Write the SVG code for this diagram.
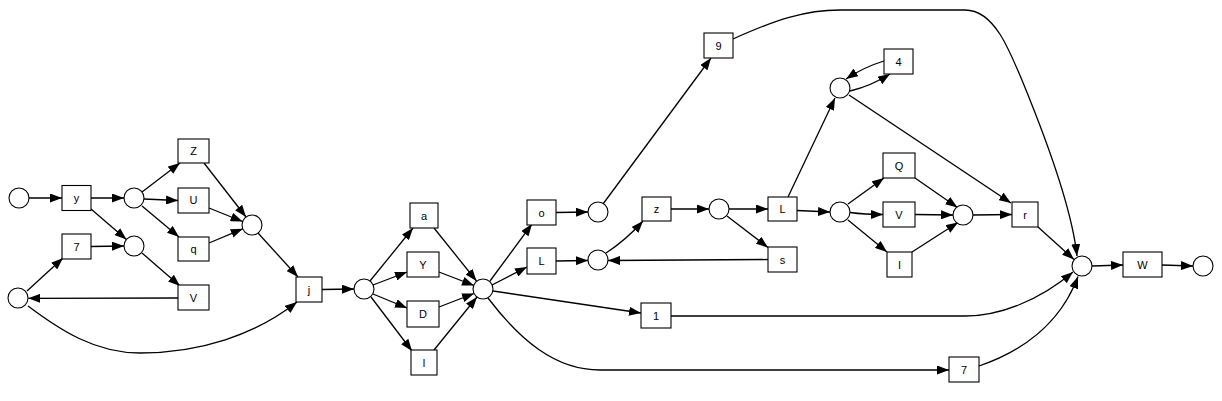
<svg xmlns="http://www.w3.org/2000/svg" width="1222" height="401" viewBox="0 0 1222 401">
<style>
.p{fill:#fff;stroke:#000;stroke-width:1.1}
.t{fill:#fff;stroke:#000;stroke-width:1.1}
.l{font-family:"Liberation Sans",Arial,sans-serif;font-size:11px;text-anchor:middle;fill:#000}
.e{fill:none;stroke:#000;stroke-width:1.3;marker-end:url(#ah)}
</style>
<defs>
<marker id="ah" markerWidth="12" markerHeight="9" refX="12" refY="4.5" orient="auto" markerUnits="userSpaceOnUse"><path d="M0,0 L12,4.5 L0,9 z" fill="#000"/></marker>
</defs>
<rect width="1222" height="401" fill="#fff"/>
<g id="connectors">
<path class="e" d="M29,198 L62,198"/>
<path class="e" d="M91,198 L124,198"/>
<path class="e" d="M91,209 L126.4,239.5"/>
<path class="e" d="M142,192 L180,163"/>
<path class="e" d="M144,199 L178,200.5"/>
<path class="e" d="M142,206 L179,237"/>
<path class="e" d="M204,163 L246,217"/>
<path class="e" d="M209,208 L242.6,221.5"/>
<path class="e" d="M209,243 L242.8,228.8"/>
<path class="e" d="M91,246.5 L124,246"/>
<path class="e" d="M142,253 L180,286"/>
<path class="e" d="M178,298 L28.3,298.3"/>
<path class="e" d="M27,291 L63,258"/>
<path class="e" d="M28,306 C60,330 95,353 140,353 C200,353 255,335 297,302"/>
<path class="e" d="M258,233 L298,277"/>
<path class="e" d="M322,289.5 L354,289"/>
<path class="e" d="M370,281 L413,228"/>
<path class="e" d="M373,285 L407,272"/>
<path class="e" d="M373,294 L407,308"/>
<path class="e" d="M371,297 L412,351"/>
<path class="e" d="M434,228 L476.5,281"/>
<path class="e" d="M439,272 L474,285.5"/>
<path class="e" d="M439,307 L474,293.5"/>
<path class="e" d="M434,350 L477,297"/>
<path class="e" d="M490,281 L532,224"/>
<path class="e" d="M492,285 L527,267"/>
<path class="e" d="M493,291 L641,313"/>
<path class="e" d="M488,298 C520,340 555,370 600,370 L949,370"/>
<path class="e" d="M556,212.5 L588,212"/>
<path class="e" d="M556,261 L588,260.5"/>
<path class="e" d="M603,204 L711,58"/>
<path class="e" d="M606,253 Q626,240 643,221"/>
<path class="e" d="M671,209 L709,209"/>
<path class="e" d="M729,209 L768,209"/>
<path class="e" d="M727,216 L768,247.5"/>
<path class="e" d="M768,259.5 L608,260.5"/>
<path class="e" d="M788,197 L835,98"/>
<path class="e" d="M797,210.5 L830,212"/>
<path class="e" d="M850,91 Q871,86 890,74"/>
<path class="e" d="M884,61 Q864,67 846,79"/>
<path class="e" d="M849,95 L1011,203"/>
<path class="e" d="M848,204 L884,178"/>
<path class="e" d="M850,212.5 Q865,214.5 883,214.5"/>
<path class="e" d="M848,220 L887,252"/>
<path class="e" d="M915,178 L957.5,207.5"/>
<path class="e" d="M915,214.5 L953,215"/>
<path class="e" d="M912,252 L958,222.5"/>
<path class="e" d="M973,215 L1012,214.5"/>
<path class="e" d="M1038,227 L1074,259.5"/>
<path class="e" d="M733,39 C775,20 805,10 840,10 L965,10 C995,10 1010,50 1030,100 C1050,150 1072,210 1077,256"/>
<path class="e" d="M671,316 L965,316 C1000,316 1040,300 1073,272"/>
<path class="e" d="M979,366 C1020,352 1060,325 1078,276.5"/>
<path class="e" d="M1092,266 L1123,265"/>
<path class="e" d="M1162,265 L1193,266"/>
</g>
<g id="p_start"><circle class="p" cx="19" cy="198" r="10"/></g>
<g id="t_y"><rect class="t" x="62" y="185.5" width="29" height="25"/><text class="l" x="76.5" y="202">y</text></g>
<g id="p_a"><circle class="p" cx="134" cy="198" r="10"/></g>
<g id="p_b"><circle class="p" cx="134" cy="246" r="10"/></g>
<g id="t_Z"><rect class="t" x="178" y="139" width="31" height="24"/><text class="l" x="193.5" y="155">Z</text></g>
<g id="t_U"><rect class="t" x="178" y="188" width="31" height="25"/><text class="l" x="193.5" y="204">U</text></g>
<g id="t_q"><rect class="t" x="178" y="237" width="31" height="24"/><text class="l" x="193.5" y="253">q</text></g>
<g id="p_c"><circle class="p" cx="252" cy="225" r="10"/></g>
<g id="t_7a"><rect class="t" x="62" y="234" width="29" height="25"/><text class="l" x="76.5" y="250.5">7</text></g>
<g id="t_Va"><rect class="t" x="178" y="285" width="31" height="25"/><text class="l" x="193.5" y="301.5">V</text></g>
<g id="p_d"><circle class="p" cx="18" cy="298" r="10"/></g>
<g id="t_j"><rect class="t" x="296" y="277" width="26" height="25"/><text class="l" x="309" y="293.5">j</text></g>
<g id="p_e"><circle class="p" cx="364" cy="289" r="10"/></g>
<g id="t_a"><rect class="t" x="410" y="203" width="28" height="25"/><text class="l" x="424" y="219.5">a</text></g>
<g id="t_Y"><rect class="t" x="407" y="252" width="32" height="25"/><text class="l" x="423" y="268.5">Y</text></g>
<g id="t_D"><rect class="t" x="407" y="301" width="32" height="26"/><text class="l" x="423" y="318">D</text></g>
<g id="t_l"><rect class="t" x="411" y="350" width="26" height="25"/><text class="l" x="424" y="366.5">l</text></g>
<g id="p_f"><circle class="p" cx="483" cy="289" r="10"/></g>
<g id="t_o"><rect class="t" x="527" y="200" width="29" height="25"/><text class="l" x="541.5" y="216.5">o</text></g>
<g id="t_La"><rect class="t" x="527" y="248" width="29" height="26"/><text class="l" x="541.5" y="265">L</text></g>
<g id="t_1"><rect class="t" x="641" y="303" width="30" height="25"/><text class="l" x="656" y="319.5">1</text></g>
<g id="t_7b"><rect class="t" x="949" y="357" width="30" height="25"/><text class="l" x="964" y="373.5">7</text></g>
<g id="p_g"><circle class="p" cx="598" cy="212" r="10"/></g>
<g id="p_h"><circle class="p" cx="598" cy="260" r="10"/></g>
<g id="t_9"><rect class="t" x="704" y="33" width="29" height="25"/><text class="l" x="718.5" y="49.5">9</text></g>
<g id="t_z"><rect class="t" x="642" y="197" width="29" height="24"/><text class="l" x="656.5" y="213">z</text></g>
<g id="p_i"><circle class="p" cx="719" cy="209" r="10"/></g>
<g id="t_Lb"><rect class="t" x="768" y="197" width="29" height="24"/><text class="l" x="782.5" y="213">L</text></g>
<g id="t_s"><rect class="t" x="768" y="247" width="29" height="25"/><text class="l" x="782.5" y="263.5">s</text></g>
<g id="p_j"><circle class="p" cx="840" cy="88" r="10"/></g>
<g id="p_k"><circle class="p" cx="840" cy="212" r="10"/></g>
<g id="t_4"><rect class="t" x="884" y="49" width="29" height="25"/><text class="l" x="898.5" y="65.5">4</text></g>
<g id="t_Q"><rect class="t" x="883" y="153" width="32" height="25"/><text class="l" x="899" y="169.5">Q</text></g>
<g id="t_Vb"><rect class="t" x="883" y="202" width="32" height="25"/><text class="l" x="899" y="218.5">V</text></g>
<g id="t_I"><rect class="t" x="887" y="252" width="25" height="25"/><text class="l" x="899.5" y="268.5">I</text></g>
<g id="p_m"><circle class="p" cx="963" cy="215" r="10"/></g>
<g id="t_r"><rect class="t" x="1012" y="202" width="26" height="25"/><text class="l" x="1025" y="218.5">r</text></g>
<g id="p_n"><circle class="p" cx="1082" cy="266" r="10"/></g>
<g id="t_W"><rect class="t" x="1123" y="252" width="39" height="25"/><text class="l" x="1142.5" y="268.5">W</text></g>
<g id="p_end"><circle class="p" cx="1203" cy="266" r="10"/></g>
</svg>
